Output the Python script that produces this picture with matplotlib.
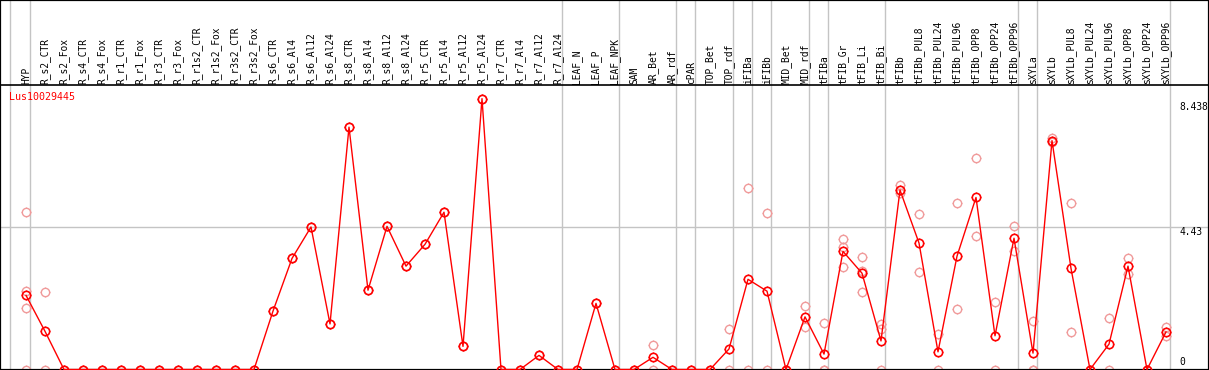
import matplotlib
matplotlib.use("Agg")
import matplotlib.pyplot as plt
from matplotlib.path import Path
import numpy as np

title = "Lus10029445"
categories = [
    "HYP", "R_s2_CTR", "R_s2_Fox", "R_s4_CTR", "R_s4_Fox", "R_r1_CTR", "R_r1_Fox",
    "R_r3_CTR", "R_r3_Fox", "R_r1s2_CTR", "R_r1s2_Fox", "R_r3s2_CTR", "R_r3s2_Fox",
    "R_s6_CTR", "R_s6_Al4", "R_s6_Al12", "R_s6_Al24", "R_s8_CTR", "R_s8_Al4",
    "R_s8_Al12", "R_s8_Al24", "R_r5_CTR", "R_r5_Al4", "R_r5_Al12", "R_r5_Al24",
    "R_r7_CTR", "R_r7_Al4", "R_r7_Al12", "R_r7_Al24", "LEAF_N", "LEAF_P", "LEAF_NPK",
    "SAM", "AR_Bet", "AR_rdf", "cPAR", "TOP_Bet", "TOP_rdf", "iFIBa", "iFIBb",
    "MID_Bet", "MID_rdf", "tFIBa", "tFIB_Gr", "tFIB_Li", "tFIB_Bi", "tFIBb",
    "tFIBb_PUL8", "tFIBb_PUL24", "tFIBb_PUL96", "tFIBb_OPP8", "tFIBb_OPP24",
    "tFIBb_OPP96", "sXYLa", "sXYLb", "sXYLb_PUL8", "sXYLb_PUL24", "sXYLb_PUL96",
    "sXYLb_OPP8", "sXYLb_OPP24", "sXYLb_OPP96",
]

means = [
    2.31, 1.19, 0, 0, 0, 0, 0, 0, 0, 0, 0, 0, 0,
    1.82, 3.46, 4.44, 1.42, 7.55, 2.47, 4.46, 3.22, 3.90, 4.90, 0.72, 8.438,
    0, 0, 0.44, 0, 0, 2.06, 0, 0, 0.38, 0, 0, 0, 0.64, 2.81, 2.44,
    0, 1.64, 0.48, 3.68, 3.00, 0.89, 5.59, 3.94, 0.55, 3.53, 5.36, 1.05,
    4.09, 0.51, 7.13, 3.15, 0, 0.79, 3.22, 0, 1.17,
]

replicates = [
    [4.90, 2.45, 1.92, 0], [2.40, 0], [0], [0], [0], [0], [0], [0], [0], [0], [0], [0], [0],
    [1.82], [3.46], [4.44], [1.42], [7.55], [2.47], [4.46], [3.22], [3.90], [4.90], [0.72], [8.438],
    [0], [0], [0.44], [0], [0], [2.06], [0], [0], [0.75, 0], [0], [0], [0], [1.25, 0],
    [5.64, 0], [4.87, 0],
    [0], [1.98, 1.33], [1.46, 0, 0], [4.07, 3.83, 3.18], [3.50, 3.07, 2.40], [1.41, 1.27, 0],
    [5.75, 5.49], [4.84, 3.04], [1.11, 0], [5.19, 1.88], [6.58, 4.15], [2.09, 0],
    [4.46, 3.70], [1.51, 0, 0], [7.20, 7.10], [5.18, 1.17], [0], [1.59, 0],
    [3.47, 2.97], [0], [1.31, 1.04],
]

group_ends = [0, 28, 31, 34, 35, 37, 38, 39, 41, 42, 45, 52, 53, 60]
ref_value = 4.43
ytick_values = [8.438, 4.43, 0]
ytick_labels = ["8.438", "4.43", "0"]

# ---- layout (pixels) ----
W, H = 1209, 370
X0, DX = 26.0, 19.0          # first category pixel x, spacing
Y0, PX = 369.5, 32.1          # zero row, pixels per unit
HEADER = 85                   # header separator row


def yv(prow):
    return (Y0 - prow) / PX


def xv(pcol):
    return (pcol - X0) / DX


fig = plt.figure(figsize=(W / 100, H / 100), dpi=100)
ax = fig.add_axes([0, 0, 1, 1])
ax.set_xlim(xv(0), xv(W))
ax.set_ylim(yv(H), yv(0))
ax.set_xticks([])
ax.set_yticks([])
for s in ax.spines.values():
    s.set_color("black")
    s.set_linewidth(1.6)

grid_c = "#c4c4c4"
ax.axvline(xv(10), color=grid_c, lw=1.0, zorder=1)
for g in group_ends:
    ax.axvline(g + 0.22, color=grid_c, lw=1.0, zorder=1)
ax.plot([xv(0), xv(W)], [ref_value, ref_value], color=grid_c, lw=1.0, zorder=1)
ax.plot([xv(0), xv(W)], [yv(HEADER), yv(HEADER)], color="black", lw=1.2, zorder=4)

# small tick marks around circle markers
tv = [(0, 1.05), (0, 1.3), (0, -1.05), (0, -1.3), (1.05, 0), (1.3, 0), (-1.05, 0), (-1.3, 0)]
tc = [Path.MOVETO, Path.LINETO] * 4
ticks = Path(tv, tc)

x = np.arange(len(categories))
pink = "#f09a9a"
rx, ry = [], []
for i, reps in enumerate(replicates):
    for r in reps:
        rx.append(i)
        ry.append(r)
ax.plot(rx, ry, linestyle="none", marker="o", markersize=6.0, mfc="none",
        mec=pink, mew=1.0, zorder=2)
ax.plot(rx, ry, linestyle="none", marker=ticks, markersize=7.8,
        mec=pink, mew=0.8, zorder=2)

ax.plot(x, means, color="red", lw=1.0, zorder=3)
ax.plot(x, means, linestyle="none", marker="o", markersize=6.0, mfc="none",
        mec="red", mew=1.2, zorder=3)
ax.plot(x, means, linestyle="none", marker=ticks, markersize=7.8,
        mec="red", mew=0.8, zorder=3)

mono = "DejaVu Sans Mono"
for i, c in enumerate(categories):
    ax.text(i, yv(83.5), c, rotation=90, ha="center", va="bottom",
            fontsize=6.9, family=mono, color="black", zorder=5)

ax.text(xv(9), yv(97), title, ha="left", va="center", fontsize=7.2,
        family=mono, color="red", zorder=5)

label_rows = [106.5, 231.7, 361.7]
for v, lab, row in zip(ytick_values, ytick_labels, label_rows):
    ax.text(xv(1179), yv(row), lab, ha="left", va="center", fontsize=6.9,
            family=mono, color="black", zorder=5)

fig.savefig("out.png", dpi=100)
